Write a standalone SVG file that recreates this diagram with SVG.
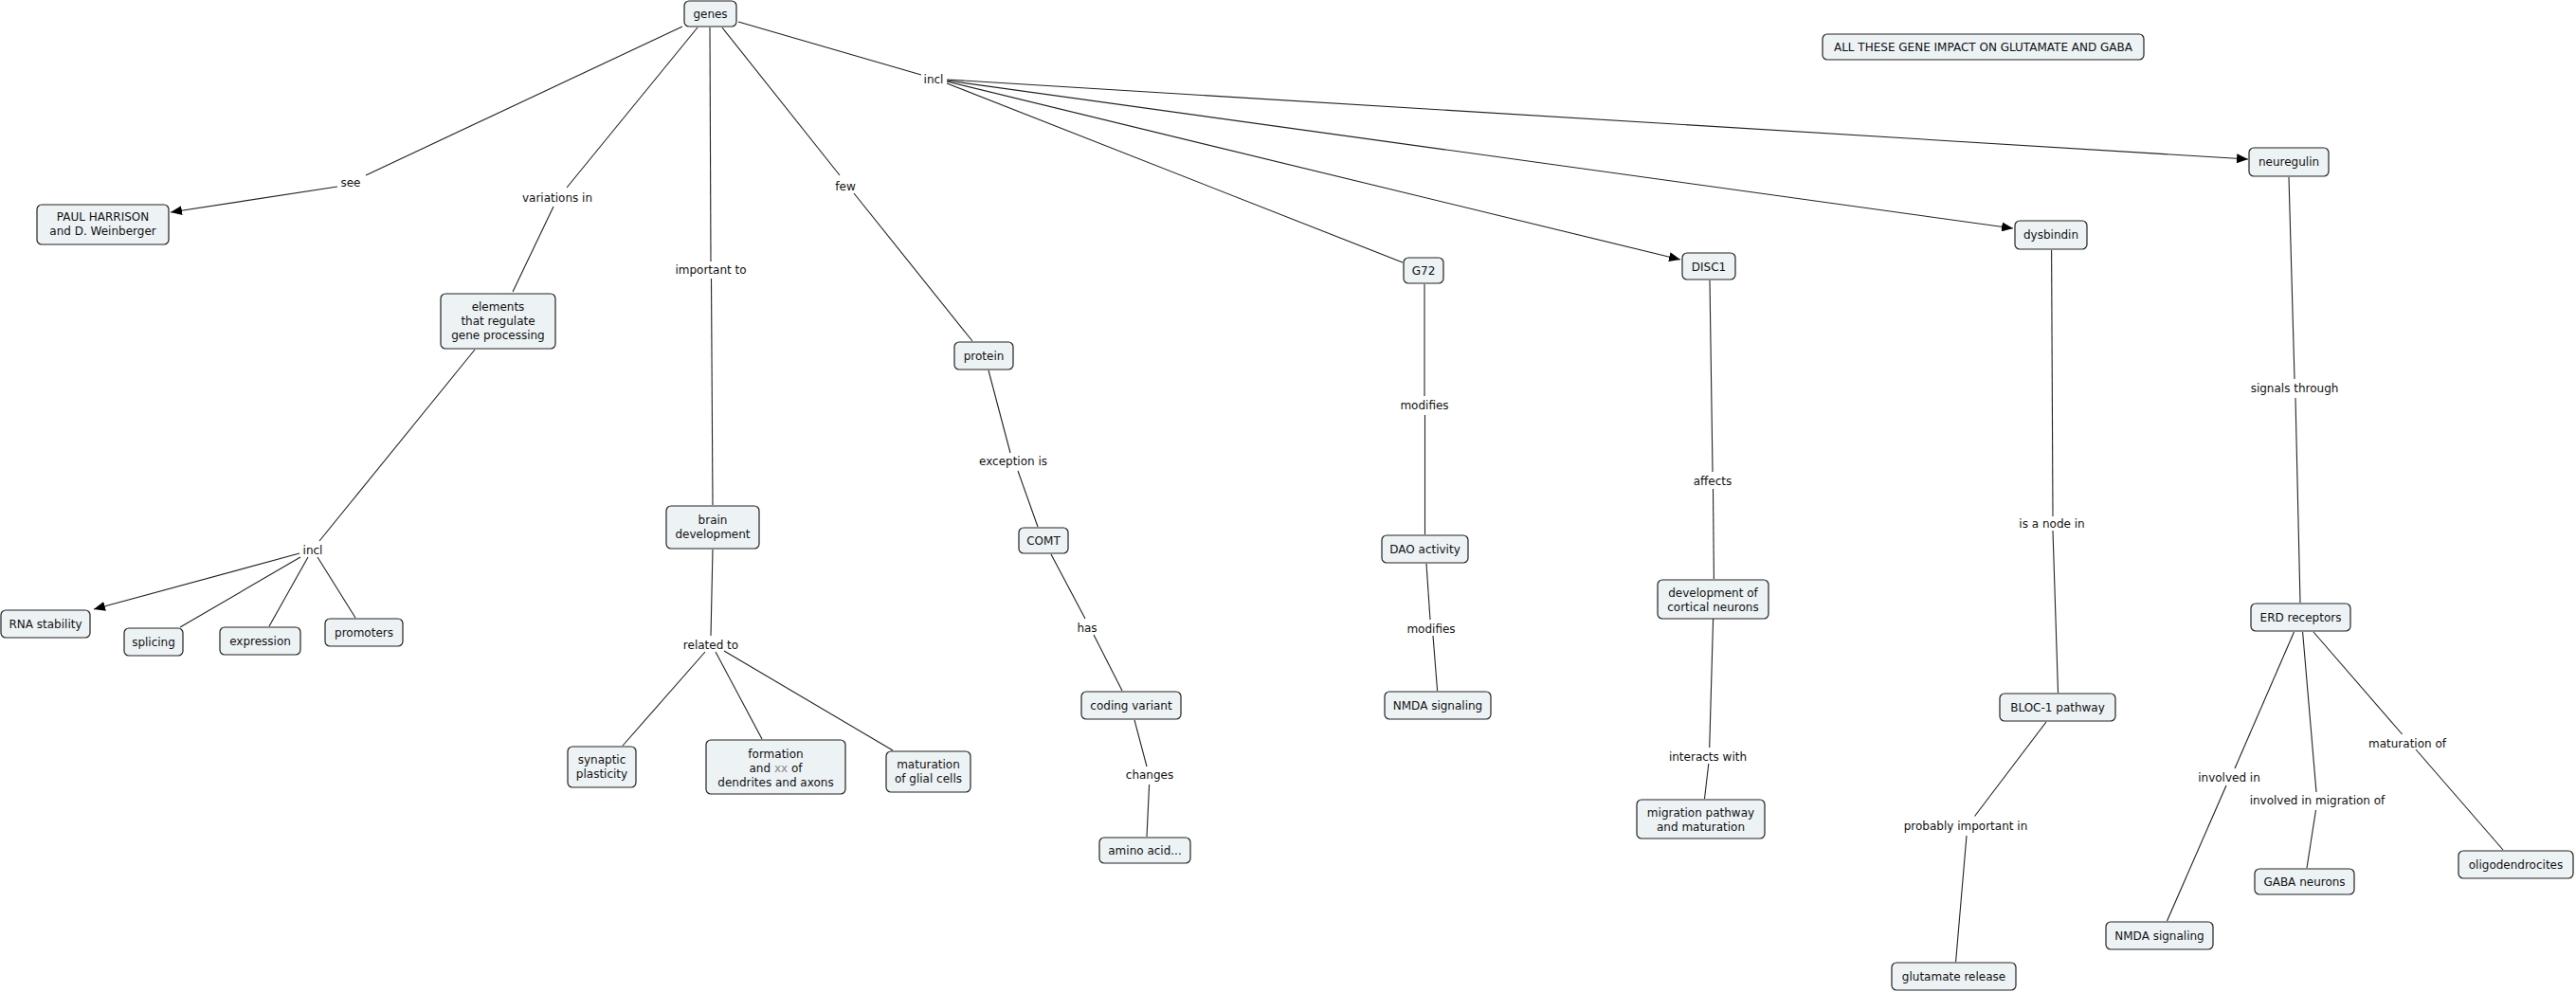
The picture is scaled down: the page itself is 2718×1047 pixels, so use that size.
<svg xmlns="http://www.w3.org/2000/svg" width="2718" height="1047" viewBox="0 0 2718 1047">
<style>
.n rect{fill:#edf3f5;stroke:#222;stroke-width:1.2}
text{font-family:"DejaVu Sans","Verdana",sans-serif;font-size:12px;fill:#111;text-anchor:middle}
.c line{stroke:#222;stroke-width:1.1}
.a{marker-end:url(#ah)}
</style>
<defs>
<marker id="ah" markerUnits="userSpaceOnUse" markerWidth="12" markerHeight="10" refX="12" refY="5" orient="auto">
<path d="M0,0 L12,5 L0,10 z" fill="#000"/>
</marker>
</defs>
<rect width="2718" height="1047" fill="#fff"/>
<g id="connectors" class="c">
<line x1="720" y1="28" x2="386" y2="185"/>
<line class="a" x1="356" y1="197" x2="180" y2="224"/>
<line x1="736" y1="29" x2="598" y2="198"/>
<line x1="584" y1="218" x2="541" y2="308"/>
<line x1="501" y1="369" x2="337" y2="571"/>
<line class="a" x1="316" y1="584" x2="99" y2="643"/>
<line x1="317" y1="588" x2="190" y2="662"/>
<line x1="325" y1="588" x2="284" y2="661"/>
<line x1="335" y1="588" x2="375" y2="652"/>
<line x1="749" y1="29" x2="750" y2="276"/>
<line x1="750.5" y1="294" x2="752" y2="533"/>
<line x1="752" y1="580" x2="750" y2="671"/>
<line x1="744" y1="688" x2="657" y2="787"/>
<line x1="755" y1="688" x2="804" y2="780"/>
<line x1="764" y1="687" x2="942" y2="792"/>
<line x1="762" y1="29" x2="886" y2="185"/>
<line x1="901" y1="204" x2="1026" y2="360"/>
<line x1="1043" y1="391" x2="1066" y2="478"/>
<line x1="1074" y1="497" x2="1095" y2="556"/>
<line x1="1109" y1="585" x2="1145" y2="653"/>
<line x1="1154" y1="670" x2="1184" y2="729"/>
<line x1="1197" y1="760" x2="1210" y2="809"/>
<line x1="1212.6" y1="828" x2="1210" y2="883"/>
<line x1="779" y1="23" x2="972" y2="79"/>
<line x1="999" y1="88" x2="1480" y2="277"/>
<line class="a" x1="999" y1="86" x2="1773" y2="274"/>
<line class="a" x1="999" y1="85" x2="2124" y2="241"/>
<line class="a" x1="999" y1="84" x2="2372" y2="168"/>
<line x1="1503" y1="300" x2="1503" y2="418"/>
<line x1="1503.5" y1="438" x2="1503.5" y2="564"/>
<line x1="1505" y1="595" x2="1509" y2="654"/>
<line x1="1512" y1="671" x2="1516.6" y2="729"/>
<line x1="1804" y1="296" x2="1807" y2="498"/>
<line x1="1807.5" y1="516" x2="1808.4" y2="611"/>
<line x1="1807.6" y1="653" x2="1803.7" y2="789"/>
<line x1="1802.8" y1="806" x2="1798.5" y2="843"/>
<line x1="2164.6" y1="264" x2="2166" y2="545"/>
<line x1="2166" y1="560" x2="2171.5" y2="731"/>
<line x1="2159" y1="762" x2="2083.5" y2="861.5"/>
<line x1="2075" y1="882" x2="2063.6" y2="1015"/>
<line x1="2415" y1="187" x2="2421" y2="400"/>
<line x1="2422" y1="420" x2="2427" y2="636"/>
<line x1="2420.5" y1="667" x2="2358" y2="811"/>
<line x1="2349" y1="829" x2="2286.5" y2="972"/>
<line x1="2429.6" y1="667" x2="2444" y2="836"/>
<line x1="2443.5" y1="855" x2="2434" y2="916"/>
<line x1="2441" y1="667" x2="2534.6" y2="775"/>
<line x1="2549" y1="791" x2="2641" y2="897"/>
</g>
<g id="labels">
<text x="370" y="197">see</text>
<text x="588" y="212.5">variations in</text>
<text x="750" y="289">important to</text>
<text x="892" y="200.5">few</text>
<text x="985" y="87.5">incl</text>
<text x="330" y="585">incl</text>
<text x="1069" y="490.6">exception is</text>
<text x="1147" y="667">has</text>
<text x="1213" y="822">changes</text>
<text x="750" y="685">related to</text>
<text x="1503" y="432">modifies</text>
<text x="1510" y="668">modifies</text>
<text x="1807" y="511.5">affects</text>
<text x="1802" y="803">interacts with</text>
<text x="2165" y="557">is a node in</text>
<text x="2074" y="876">probably important in</text>
<text x="2421" y="414">signals through</text>
<text x="2352" y="825">involved in</text>
<text x="2445" y="849">involved in migration of</text>
<text x="2540" y="789">maturation of</text>
</g>
<g id="genes" class="n"><rect x="722" y="1" width="55" height="27" rx="5"/><text x="749.5" y="18.5">genes</text></g>
<g id="paul" class="n"><rect x="39" y="216" width="139" height="42" rx="5"/><text x="108.5" y="233">PAUL HARRISON</text><text x="108.5" y="248">and D. Weinberger</text></g>
<g id="elements" class="n"><rect x="465" y="310" width="121" height="58" rx="5"/><text x="525.5" y="328">elements</text><text x="525.5" y="343">that regulate</text><text x="525.5" y="358">gene processing</text></g>
<g id="rna" class="n"><rect x="1" y="644" width="94" height="29" rx="5"/><text x="48" y="662.5">RNA stability</text></g>
<g id="splicing" class="n"><rect x="131" y="663" width="62" height="29" rx="5"/><text x="162" y="681.5">splicing</text></g>
<g id="expression" class="n"><rect x="232" y="662" width="85" height="29" rx="5"/><text x="274.5" y="680.5">expression</text></g>
<g id="promoters" class="n"><rect x="343" y="653" width="82" height="29" rx="5"/><text x="384" y="671.5">promoters</text></g>
<g id="brain" class="n"><rect x="703" y="534" width="98" height="45" rx="5"/><text x="752" y="553">brain</text><text x="752" y="568">development</text></g>
<g id="synaptic" class="n"><rect x="599" y="788" width="72" height="43" rx="5"/><text x="635" y="805.5">synaptic</text><text x="635" y="820.5">plasticity</text></g>
<g id="formation" class="n"><rect x="745" y="781" width="147" height="57" rx="5"/><text x="818.5" y="800">formation</text><text x="818.5" y="815">and <tspan fill="#888">xx</tspan> of</text><text x="818.5" y="830">dendrites and axons</text></g>
<g id="glial" class="n"><rect x="935" y="793" width="89" height="43" rx="5"/><text x="979.5" y="810.5">maturation</text><text x="979.5" y="825.5">of glial cells</text></g>
<g id="protein" class="n"><rect x="1007" y="361" width="62" height="29" rx="5"/><text x="1038" y="380">protein</text></g>
<g id="comt" class="n"><rect x="1075" y="557" width="52" height="27" rx="5"/><text x="1101" y="575">COMT</text></g>
<g id="coding" class="n"><rect x="1141" y="730" width="105" height="29" rx="5"/><text x="1193.5" y="748.5">coding variant</text></g>
<g id="amino" class="n"><rect x="1160" y="884" width="96" height="27" rx="5"/><text x="1208" y="902">amino acid...</text></g>
<g id="g72" class="n"><rect x="1481" y="272" width="42" height="27" rx="5"/><text x="1502" y="290">G72</text></g>
<g id="dao" class="n"><rect x="1458" y="565" width="91" height="29" rx="5"/><text x="1503.5" y="583.5">DAO activity</text></g>
<g id="nmda1" class="n"><rect x="1461" y="730" width="112" height="29" rx="5"/><text x="1517" y="748.5">NMDA signaling</text></g>
<g id="disc1" class="n"><rect x="1775" y="267" width="56" height="28" rx="5"/><text x="1803" y="285.5">DISC1</text></g>
<g id="cortical" class="n"><rect x="1749" y="612" width="117" height="41" rx="5"/><text x="1807.5" y="630">development of</text><text x="1807.5" y="645">cortical neurons</text></g>
<g id="migration" class="n"><rect x="1727" y="844" width="135" height="41" rx="5"/><text x="1794.5" y="862">migration pathway</text><text x="1794.5" y="877">and maturation</text></g>
<g id="dysbindin" class="n"><rect x="2126" y="233" width="76" height="30" rx="5"/><text x="2164" y="252">dysbindin</text></g>
<g id="bloc1" class="n"><rect x="2110" y="732" width="122" height="29" rx="5"/><text x="2171" y="750.5">BLOC-1 pathway</text></g>
<g id="glutamate" class="n"><rect x="1996" y="1016" width="131" height="29" rx="5"/><text x="2061.5" y="1034.5">glutamate release</text></g>
<g id="neuregulin" class="n"><rect x="2373" y="156" width="84" height="30" rx="5"/><text x="2415" y="175">neuregulin</text></g>
<g id="erd" class="n"><rect x="2375" y="637" width="105" height="29" rx="5"/><text x="2427.5" y="655.5">ERD receptors</text></g>
<g id="nmda2" class="n"><rect x="2222" y="973" width="113" height="29" rx="5"/><text x="2278.5" y="991.5">NMDA signaling</text></g>
<g id="gaba" class="n"><rect x="2379" y="917" width="105" height="27" rx="5"/><text x="2431.5" y="935">GABA neurons</text></g>
<g id="oligo" class="n"><rect x="2594" y="898" width="121" height="29" rx="5"/><text x="2654.5" y="916.5">oligodendrocites</text></g>
<g id="allgenes" class="n"><rect x="1923" y="36" width="339" height="27" rx="5"/><text x="2092.5" y="54">ALL THESE GENE IMPACT ON GLUTAMATE AND GABA</text></g>
</svg>
